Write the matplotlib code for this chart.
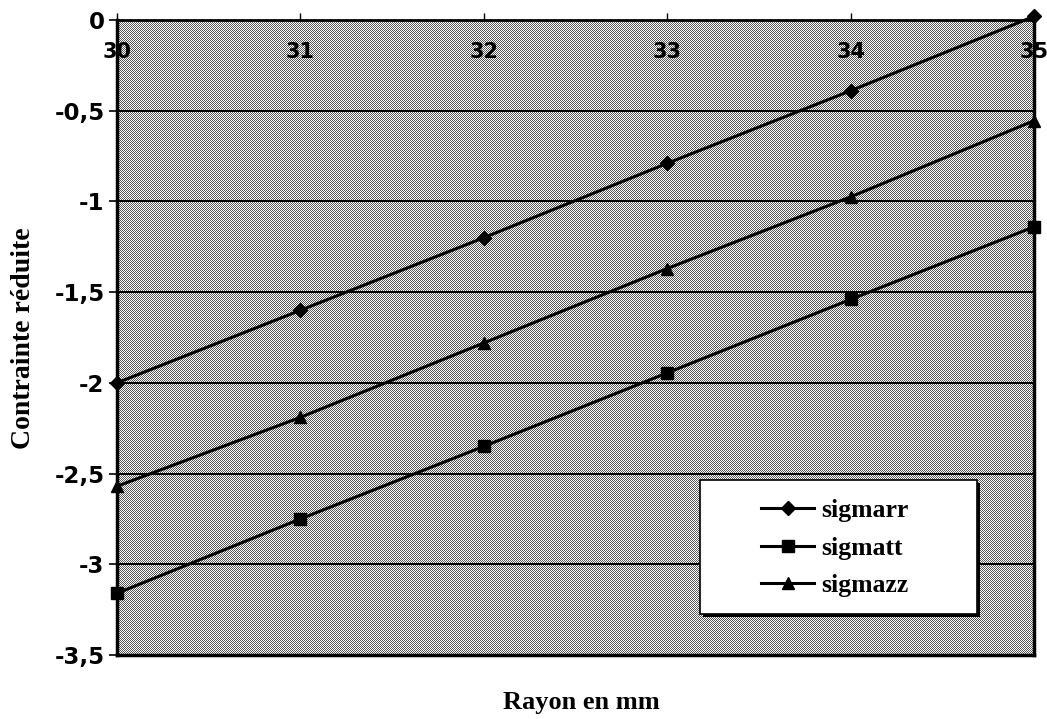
import matplotlib
matplotlib.use("Agg")
import matplotlib.pyplot as plt
import numpy as np
from matplotlib.patches import Rectangle

# ---- data ----
rayon = [30, 31, 32, 33, 34, 35]
sigmarr = [-2.00, -1.60, -1.20, -0.79, -0.39, 0.02]
sigmatt = [-3.16, -2.75, -2.35, -1.945, -1.54, -1.14]
sigmazz = [-2.57, -2.19, -1.78, -1.37, -0.975, -0.555]
series_names = ["sigmarr", "sigmatt", "sigmazz"]
y_ticks = [0, -0.5, -1, -1.5, -2, -2.5, -3, -3.5]
y_tick_labels = ["0", "-0,5", "-1", "-1,5", "-2", "-2,5", "-3", "-3,5"]
x_ticks = [30, 31, 32, 33, 34, 35]
x_tick_labels = ["30", "31", "32", "33", "34", "35"]

W, H = 1047, 719
fig = plt.figure(figsize=(W / 100, H / 100), dpi=100)
fig.patch.set_facecolor("white")
L, R, T, B = 117, 1034, 20, 655
ax = fig.add_axes([L / W, (H - B) / H, (R - L) / W, (B - T) / H])

# halftone-like background
ax.set_facecolor("#b0b0b0")
ny, nx = B - T, R - L
yy, xx = np.mgrid[0:ny, 0:nx]
pattern = ((xx + yy) % 2 == 0).astype(float)
ax.imshow(pattern, cmap="gray", vmin=-0.55, vmax=1.0, extent=[30, 35, -3.5, 0],
          aspect="auto", interpolation="nearest", zorder=0)

ax.set_xlim(30, 35)
ax.set_ylim(-3.5, 0)

for yv in y_ticks:
    ax.axhline(yv, color="black", lw=1.4, zorder=1)

lw = 2.2
ax.plot(rayon, sigmarr, color="black", lw=lw, marker="D", ms=7.5, label=series_names[0], zorder=3, clip_on=False)
ax.plot(rayon, sigmatt, color="black", lw=lw, marker="s", ms=8, label=series_names[1], zorder=3, clip_on=False)
ax.plot(rayon, sigmazz, color="black", lw=lw, marker="^", ms=8.5, label=series_names[2], zorder=3, clip_on=False)

# axes styling
ax.xaxis.tick_top()
ax.set_xticks(x_ticks)
ax.set_xticklabels(x_tick_labels)
ax.set_yticks(y_ticks)
ax.set_yticklabels(y_tick_labels)
for lab in ax.get_yticklabels():
    lab.set_fontfamily("DejaVu Sans")
    lab.set_fontweight("bold")
    lab.set_fontsize(16.5)
for lab in ax.get_xticklabels():
    lab.set_fontfamily("DejaVu Sans")
    lab.set_fontweight("bold")
    lab.set_fontsize(15)
ax.tick_params(axis="x", direction="out", length=5, width=1.0, pad=-35, colors="black")
ax.tick_params(axis="y", direction="out", length=6, width=1.2, pad=3, colors="black")

for side in ["left", "bottom", "right"]:
    ax.spines[side].set_linewidth(2.5)
ax.spines["top"].set_linewidth(2.0)

ax.set_ylabel("Contrainte réduite", fontfamily="Liberation Serif", fontweight="bold",
              fontsize=20)
ax.yaxis.set_label_coords(-(L - 24) / (R - L), (B - 338) / (B - T))
ax.yaxis.label.set_va("center")
fig.text(581 / W, 1 - 703 / H, "Rayon en mm", ha="center", va="center",
         fontfamily="Liberation Serif", fontweight="bold", fontsize=19)

# legend box
bx0, bx1, by0, by1 = 700, 977, 480, 614
ax.add_patch(Rectangle(((bx0 - L) / (R - L) + 0.003, (B - by1) / (B - T) - 0.004),
                       (bx1 - bx0) / (R - L), (by1 - by0) / (B - T),
                       transform=ax.transAxes, facecolor="black", edgecolor="none", zorder=4))
ax.add_patch(Rectangle(((bx0 - L) / (R - L), (B - by1) / (B - T)),
                       (bx1 - bx0) / (R - L), (by1 - by0) / (B - T),
                       transform=ax.transAxes, facecolor="white", edgecolor="black",
                       lw=1.2, zorder=5))
leg = ax.legend(loc="center", bbox_to_anchor=((835 - L) / (R - L), (B - 548) / (B - T)),
                frameon=False, prop=dict(family="Liberation Serif", size=18.5, weight="bold"),
                handlelength=2.05, handletextpad=0.3, labelspacing=0.55, borderaxespad=0)
leg.set_zorder(6)

fig.savefig("out.png", dpi=100)
